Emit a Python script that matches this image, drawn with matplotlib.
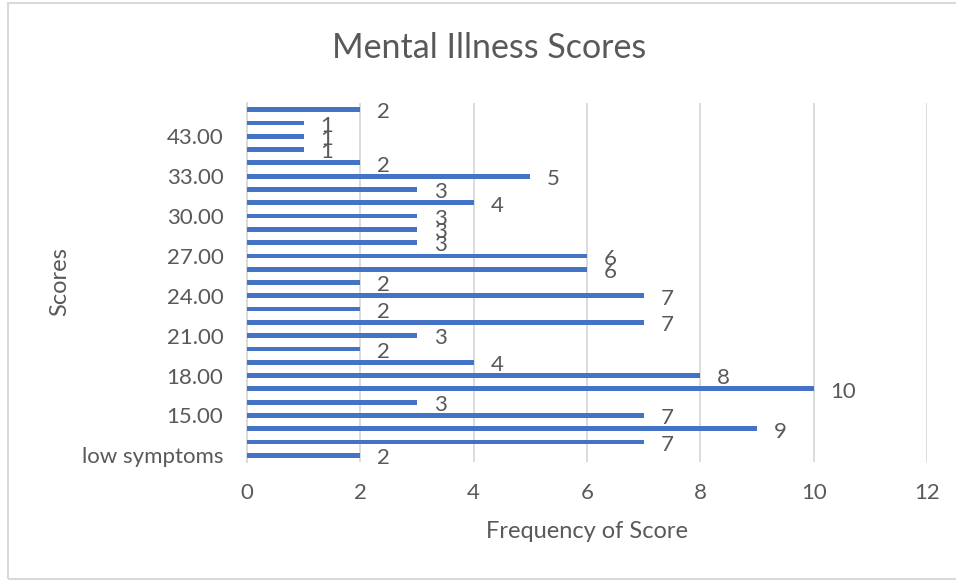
"""
Mental illness scores bar chart.
"""

import matplotlib
matplotlib.use("Agg")
import matplotlib.pyplot as plt
from matplotlib.patches import Rectangle

# Categories from bottom to top
score_labels = [
    "low symptoms", "13.00", "14.00", "15.00", "16.00", "17.00", "18.00",
    "19.00", "20.00", "21.00", "22.00", "23.00", "24.00", "25.00", "26.00",
    "27.00", "28.00", "29.00", "30.00", "31.00", "32.00", "33.00", "36.00",
    "40.00", "43.00", "46.00", "high symptoms",
]
frequencies = [2, 7, 9, 7, 3, 10, 8, 4, 2, 3, 7, 2, 7, 2, 6, 6, 3, 3, 3, 4, 3, 5, 2, 1, 1, 1, 2]
x_ticks = [0, 2, 4, 6, 8, 10, 12]

TEXT = "#595959"
GRID = "#D9D9D9"
BAR = "#4472C4"

plt.rcParams["font.family"] = ["Lato", "DejaVu Sans"]


def main():
    """
    Main function.
    """
    fig = plt.figure(figsize=(9.56, 5.81), dpi=100)
    ax = fig.add_axes([247 / 956, 119 / 581, 680 / 956, 359 / 581])

    positions = list(range(len(frequencies)))
    ax.barh(positions, frequencies, height=0.36, color=BAR, zorder=3)

    # Data labels outside bar end
    for pos, val in zip(positions, frequencies):
        ax.annotate(str(val), (val, pos), xytext=(12, -2), textcoords="offset points",
                    ha="left", va="center", fontsize=16, color=TEXT)

    ax.set_xlim(0, 12)
    ax.set_ylim(-0.5, len(frequencies) - 0.5)
    ax.set_xticks(x_ticks)
    ax.set_xticklabels([str(t) for t in x_ticks])
    ax.set_yticks(positions[::3])
    ax.set_yticklabels(score_labels[::3])
    ax.tick_params(axis="both", length=0, labelsize=16, labelcolor=TEXT)
    ax.tick_params(axis="x", pad=15)
    ax.tick_params(axis="y", pad=17)

    ax.grid(axis="x", color=GRID, linewidth=1.3, zorder=0)
    for side in ["top", "right", "bottom"]:
        ax.spines[side].set_visible(False)
    ax.spines["left"].set_color(GRID)
    ax.spines["left"].set_linewidth(1.3)

    fig.text(587 / 956, 1 - 531 / 581, "Frequency of Score", ha="center", va="center",
             fontsize=17, color=TEXT)
    fig.text(60 / 956, 1 - 282 / 581, "Scores", ha="center", va="center",
             rotation=90, fontsize=17, color=TEXT)
    fig.text(489 / 956, 1 - 48 / 581, "Mental Illness Scores", ha="center", va="center",
             fontsize=24.5, color=TEXT)

    # Chart border
    fig.patches.append(Rectangle((8 / 956, 2 / 581), 1.0, 576 / 581, transform=fig.transFigure,
                                 fill=False, edgecolor=GRID, linewidth=1.5))

    fig.savefig("out.png", dpi=100, facecolor="white")


if __name__ == "__main__":
    main()
